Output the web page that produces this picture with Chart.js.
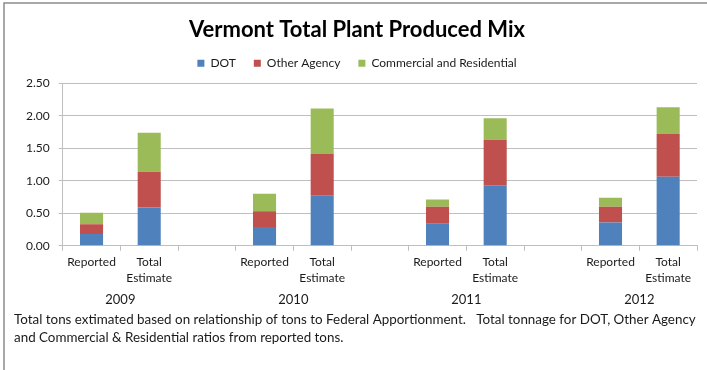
<!DOCTYPE html>
<html>
<head>
<meta charset="utf-8">
<script src="https://cdn.jsdelivr.net/npm/chart.js@4"></script>
<style>
  html, body { margin: 0; padding: 0; background: #ffffff; }
  #wrap { width: 707px; height: 370px; position: relative; }
</style>
</head>
<body>
<div id="wrap"><canvas id="c" width="707" height="370"></canvas></div>
<script>
// ---- data ----
const categories = ['Reported', ['Total', 'Estimate'], '', 'Reported', ['Total', 'Estimate'], '', 'Reported', ['Total', 'Estimate'], '', 'Reported', ['Total', 'Estimate']];
const years = ['2009', '2010', '2011', '2012'];
const yearCategoryIndex = [[0, 1], [3, 4], [6, 7], [9, 10]];
const dotValues = [0.18, 0.59, null, 0.29, 0.77, null, 0.34, 0.93, null, 0.36, 1.06];
const otherAgencyValues = [0.15, 0.55, null, 0.24, 0.64, null, 0.26, 0.70, null, 0.24, 0.66];
const commercialValues = [0.18, 0.60, null, 0.27, 0.70, null, 0.11, 0.33, null, 0.14, 0.41];
const seriesNames = ['DOT', 'Other Agency', 'Commercial and Residential'];
const yTicks = [0, 0.5, 1.0, 1.5, 2.0, 2.5];
const titleText = 'Vermont Total Plant Produced Mix';
const footnoteLines = [
  'Total tons extimated based on relationship of tons to Federal Apportionment.   Total tonnage for DOT, Other Agency',
  'and Commercial & Residential ratios from reported tons.'
];

const FONT = 'Lato, "Open Sans", sans-serif';
const colors = ['#4F81BD', '#C0504D', '#9BBB59'];

const extrasPlugin = {
  id: 'extras',
  afterDraw(chart) {
    const ctx = chart.ctx;
    const x = chart.scales.x;
    ctx.save();
    // outer frame (top and left edges visible)
    ctx.strokeStyle = '#8c8c8c';
    ctx.lineWidth = 1.5;
    ctx.beginPath();
    ctx.moveTo(4, 370);
    ctx.lineTo(4, 3);
    ctx.lineTo(707, 3);
    ctx.stroke();
    // year group labels
    ctx.fillStyle = '#1a1a1a';
    ctx.font = '13px ' + FONT;
    ctx.textAlign = 'center';
    ctx.textBaseline = 'middle';
    yearCategoryIndex.forEach((pair, i) => {
      const cx = (x.getPixelForValue(pair[0]) + x.getPixelForValue(pair[1])) / 2;
      ctx.fillText(years[i], cx, 300);
    });
    // footnote
    ctx.textAlign = 'left';
    ctx.font = '13.4px ' + FONT;
    footnoteLines.forEach((line, i) => {
      ctx.fillText(line, 14, 320 + i * 17.5);
    });
    ctx.restore();
  }
};

new Chart(document.getElementById('c'), {
  type: 'bar',
  data: {
    labels: categories,
    datasets: [
      { label: seriesNames[0], data: dotValues, backgroundColor: colors[0] },
      { label: seriesNames[1], data: otherAgencyValues, backgroundColor: colors[1] },
      { label: seriesNames[2], data: commercialValues, backgroundColor: colors[2] }
    ]
  },
  options: {
    responsive: false,
    animation: false,
    devicePixelRatio: 1,
    layout: { padding: { left: 17, right: 10, top: 8, bottom: 80 } },
    datasets: { bar: { barPercentage: 0.4, categoryPercentage: 1.0 } },
    plugins: {
      title: {
        display: true,
        text: titleText,
        color: '#000000',
        font: { family: FONT, size: 22, weight: 'bold' },
        padding: { top: 8.8, bottom: -4 }
      },
      subtitle: {
        display: true,
        text: ' ',
        weight: 500,
        font: { size: 1, lineHeight: 1 },
        padding: { top: 3, bottom: 0 }
      },
      legend: {
        display: true,
        position: 'top',
        labels: {
          boxWidth: 7,
          boxHeight: 7,
          padding: 18,
          color: '#1a1a1a',
          font: { family: FONT, size: 12 }
        }
      },
      tooltip: { enabled: false }
    },
    scales: {
      x: {
        stacked: true,
        offset: true,
        grid: {
          offset: true,
          drawOnChartArea: false,
          drawTicks: true,
          tickLength: 5,
          color: '#bfbfbf'
        },
        border: { display: true, color: '#bfbfbf' },
        ticks: {
          color: '#1a1a1a',
          font: { family: FONT, size: 12, lineHeight: 1.3 },
          maxRotation: 0,
          autoSkip: false,
          padding: 4
        }
      },
      y: {
        stacked: true,
        min: 0,
        max: 2.5,
        afterBuildTicks(axis) { axis.ticks = yTicks.map(v => ({ value: v })); },
        grid: {
          color: '#bfbfbf',
          tickLength: 4,
          drawTicks: true
        },
        border: { display: true, color: '#bfbfbf' },
        ticks: {
          color: '#1a1a1a',
          font: { family: FONT, size: 12 },
          padding: 9,
          callback: v => Number(v).toFixed(2)
        }
      }
    }
  },
  plugins: [extrasPlugin]
});
</script>
</body>
</html>
